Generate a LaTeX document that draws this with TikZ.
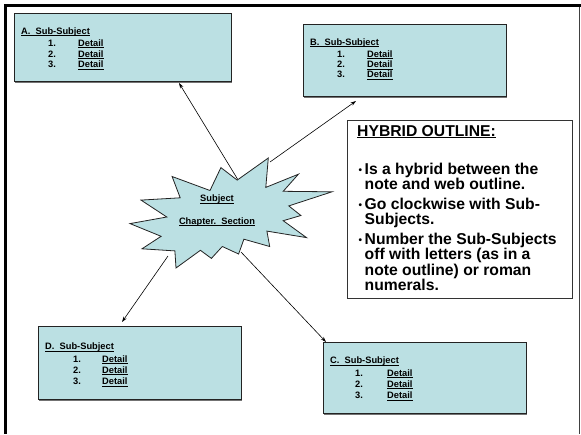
\documentclass[tikz,border=0pt]{standalone}
\usepackage{fontspec}
\setmainfont{Liberation Sans}
\usetikzlibrary{arrows.meta}
\definecolor{boxfill}{RGB}{187,224,227}
\definecolor{edgec}{RGB}{35,35,35}
\newcommand\myul[1]{\setbox0\hbox{#1}\rlap{\rule[-1.7pt]{\wd0}{0.75pt}}\box0}
\tikzset{
  subbox/.style={draw=edgec, line width=0.9pt, fill=boxfill, anchor=north west, inner sep=0pt},
  small/.style={font=\fontsize{9.3}{11}\selectfont\bfseries, anchor=base west, inner sep=0pt},
  smallc/.style={font=\fontsize{9.3}{11}\selectfont\bfseries, anchor=base, inner sep=0pt},
  big/.style={font=\fontsize{15.7}{16}\selectfont\bfseries, anchor=base west, inner sep=0pt},
  bul/.style={font=\fontsize{10}{11}\selectfont\bfseries, anchor=base west, inner sep=0pt},
  arr/.style={-{Stealth[length=5.5pt,width=3.6pt]}, line width=0.6pt, draw=black},
  frameline/.style={line cap=butt},
}
% name, x, y, w, h, letter, title baseline offset, row spacing, number offset
\newcommand\mysubbox[9]{%
  \fill[black!55] (#2+1.3,#3+1.6) rectangle (#2+#4+1.3,#3+#5+1.6);
  \node[subbox, minimum width=#4pt, minimum height=#5pt] (#1) at (#2,#3) {};
  \node[small] (#1t) at (#2+7,#3+#7) {\myul{#6.\ \ Sub-Subject}};
  \node[small] (#1n1) at (#2+#9,#3+#7+12.3) {1.};
  \node[small] (#1d1) at (#2+64,#3+#7+12.3) {\myul{Detail}};
  \node[small] (#1n2) at (#2+#9,#3+#7+12.3+#8) {2.};
  \node[small] (#1d2) at (#2+64,#3+#7+12.3+#8) {\myul{Detail}};
  \node[small] (#1n3) at (#2+#9,#3+#7+12.3+2*#8) {3.};
  \node[small] (#1d3) at (#2+64,#3+#7+12.3+2*#8) {\myul{Detail}};
}
\begin{document}
\begin{tikzpicture}[x=1pt,y=-1pt]
\useasboundingbox (0,0) rectangle (581,434);
% slide frame
\draw[frameline, line width=2.6pt, black] (4,5.3) -- (581,5.3);
\draw[frameline, line width=3pt, black] (5.5,4) -- (5.5,434);
\draw[frameline, line width=1.1pt, black!75] (579.5,6.5) -- (579.5,434);

% sub-subject boxes
\mysubbox{A}{14}{13.3}{217}{68}{A}{20.7}{10.8}{34}
\mysubbox{B}{303}{23.5}{203}{72.5}{B}{21.7}{10.2}{34}
\mysubbox{D}{38}{326}{203}{73}{D}{23.7}{11.3}{35}
\mysubbox{C}{323}{342}{203}{71}{C}{21.7}{11.3}{32}

% starburst (irregular seal)
\draw[draw=edgec, line width=0.8pt, fill=boxfill, line join=miter]
  (237.2,180.1) -- (268.3,158) -- (265.8,187.4) -- (298.4,174.2) -- (283.2,191.3)
  -- (332,191.8) -- (288.8,205.9) -- (300.9,215.5) -- (283.2,220.7) -- (306.5,237.6)
  -- (266.9,231.1) -- (269.7,246.5) -- (243.9,239.2) -- (238.6,254) -- (222.3,246.5)
  -- (211.4,258.4) -- (200.4,250.3) -- (176,268) -- (174.9,250.9) -- (142,248.8)
  -- (161.1,236.3) -- (130,223.6) -- (166.8,217) -- (141,200.1) -- (180.2,197.8)
  -- (172.1,176.5) -- (210,190.5) -- (220.9,167.6) -- cycle;
\node[smallc] (subj) at (217,201.7) {\myul{Subject}};
\node[smallc] (chap) at (217,224) {\myul{Chapter.\ \ Section}};

% connector anchors
\coordinate (sA) at (237.5,179);
\coordinate (sB) at (270,162);
\coordinate (sC) at (241,252);
\coordinate (sD) at (168,256);
\coordinate (tA) at (179,83);
\coordinate (tB) at (356,101);
\coordinate (tC) at (326,342);
\coordinate (tD) at (122,322);
\draw[arr] (sA) -- (tA);
\draw[arr] (sB) -- (tB);
\draw[arr] (sC) -- (tC);
\draw[arr] (sD) -- (tD);

% hybrid outline box
\node[draw=black!80, line width=1.4pt, fill=white, anchor=north west, inner sep=0pt,
      minimum width=225pt, minimum height=178pt] (H) at (347,120) {};
\node[big] (Ht) at (357,136) {\myul{HYBRID OUTLINE:}};
\node[bul] (b1) at (358.5,173.5) {•};
\node[big] (l1) at (364.5,174) {Is a hybrid between the};
\node[big] (l2) at (364.5,189.5) {note and web outline.};
\node[bul] (b2) at (358.5,208.5) {•};
\node[big] (l3) at (364.5,209) {Go clockwise with Sub-};
\node[big] (l4) at (364.5,224.5) {Subjects.};
\node[bul] (b3) at (358.5,243.5) {•};
\node[big] (l5) at (364.5,244) {Number the Sub-Subjects};
\node[big] (l6) at (364.5,259.5) {off with letters (as in a};
\node[big] (l7) at (364.5,275) {note outline) or roman};
\node[big] (l8) at (364.5,290.5) {numerals.};
\end{tikzpicture}
\end{document}
